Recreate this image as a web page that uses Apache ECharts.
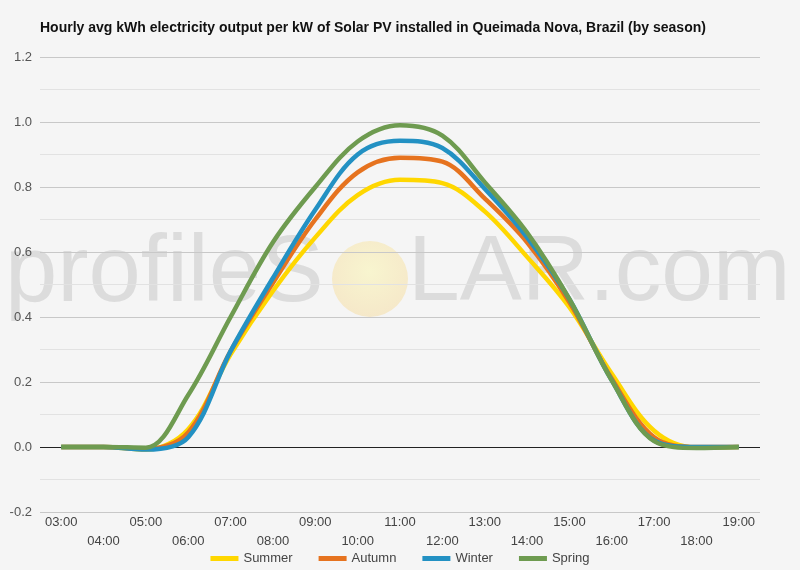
<!DOCTYPE html>
<html><head><meta charset="utf-8">
<script src="https://cdn.jsdelivr.net/npm/echarts@6/dist/echarts.min.js"></script>
<style>html,body{margin:0;padding:0;background:#f5f5f5}#c{width:800px;height:570px}</style>
</head><body><div id="c"></div>
<script>
const hours = ['03:00','04:00','05:00','06:00','07:00','08:00','09:00','10:00','11:00','12:00','13:00','14:00','15:00','16:00','17:00','18:00','19:00'];
const summer = [0,0,-0.008,0.055,0.285,0.48,0.645,0.775,0.822,0.812,0.725,0.585,0.43,0.225,0.05,-0.002,0];
const autumn = [0,0,-0.006,0.045,0.295,0.505,0.70,0.845,0.89,0.878,0.765,0.63,0.445,0.21,0.03,0,0];
const winter = [0,0,-0.008,0.03,0.295,0.52,0.73,0.90,0.942,0.92,0.795,0.645,0.455,0.205,0.02,0,0];
const spring = [0,0,-0.002,0.16,0.40,0.63,0.80,0.94,0.99,0.958,0.815,0.66,0.455,0.205,0.018,-0.003,0];
const seriesNames = ['Summer','Autumn','Winter','Spring'];
const colors = ['#FFD700','#E6731F','#2391C3','#6E9B50'];
const yTicks = {min:-0.2,max:1.2,step:0.1};

const chart = echarts.init(document.getElementById('c'));
const mk = (name, data, color, i) => ({
  name, type:'line', data, smooth:0.35, showSymbol:false, symbol:'none',
  lineStyle:{color, width:4.5}, itemStyle:{color}, z: 3+i,
  markLine: i===0 ? {silent:true, symbol:'none', label:{show:false},
    lineStyle:{color:'#222', width:1, type:'solid'}, data:[{yAxis:0}], z:2} : undefined
});
chart.setOption({
  backgroundColor:'#f5f5f5',
  animation:false,
  title:{text:'Hourly avg kWh electricity output per kW of Solar PV installed in Queimada Nova, Brazil (by season)',
    left:35, top:16, textStyle:{fontSize:14, fontWeight:'bold', color:'#111', fontFamily:'Liberation Sans'}},
  graphic:[
    {type:'text', left:5, top:228, z:-10, silent:true,
      style:{text:'profileS', font:'94px "Liberation Sans"', fill:'#dcdcdc'}},
    {type:'circle', shape:{cx:370, cy:279, r:38}, z:-10, silent:true,
      style:{fill:new echarts.graphic.RadialGradient(0.5,0.4,0.7,[{offset:0,color:'#f8f5cf'},{offset:1,color:'#f5e6c8'}])}},
    {type:'text', left:408, top:228, z:-10, silent:true,
      style:{text:'LAR.com', font:'93px "Liberation Sans"', fill:'#dcdcdc'}}
  ],
  grid:{left:40, right:40, top:57, bottom:58},
  legend:{bottom:0, left:'center', icon:'rect', itemWidth:28, itemHeight:5, itemGap:26,
    textStyle:{fontSize:13, color:'#444', fontFamily:'Liberation Sans'}, data:seriesNames},
  xAxis:{type:'category', data:hours, boundaryGap:true,
    axisLine:{show:false}, axisTick:{show:false},
    axisLabel:{interval:0, fontSize:13, color:'#444', fontFamily:'Liberation Sans', lineHeight:19, margin:1,
      formatter:(v,i)=> i%2 ? '\n'+v : v}},
  yAxis:{type:'value', min:yTicks.min, max:yTicks.max, interval:yTicks.step,
    axisLine:{show:false}, axisTick:{show:false},
    axisLabel:{fontSize:13, color:'#555', fontFamily:'Liberation Sans', margin:8,
      formatter:v=> (Math.round(v*10)%2===0) ? v.toFixed(1) : ''},
    splitLine:{lineStyle:{color:['#c8c8c8','#e2e2e2'], width:1}}},
  series:[mk(seriesNames[0],summer,colors[0],0), mk(seriesNames[1],autumn,colors[1],1),
          mk(seriesNames[2],winter,colors[2],2), mk(seriesNames[3],spring,colors[3],3)]
});
</script></body></html>
